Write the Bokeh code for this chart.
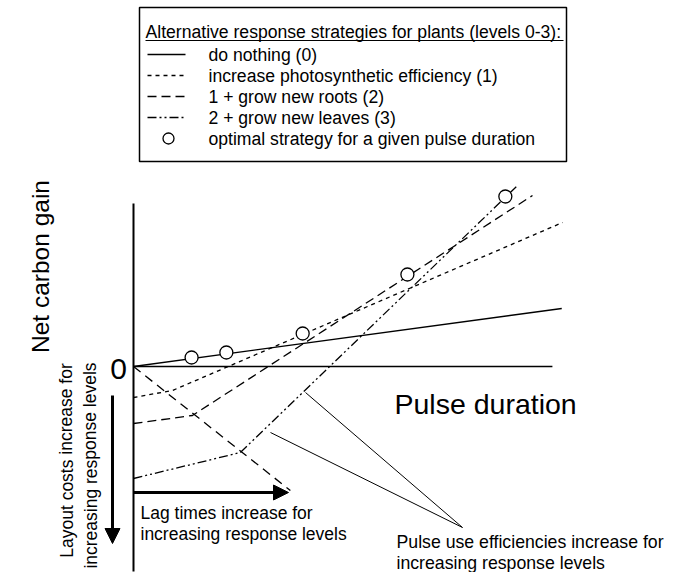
from bokeh.plotting import figure
from bokeh.models import Range1d, Arrow, NormalHead, Label
from bokeh.embed import file_html
from bokeh.resources import INLINE

# ---------------- data (conceptual units: pulse duration vs net carbon gain) -------------
lvl0_x = [0.0, 10.1]
lvl0_y = [0.0, 5.8]
lvl1_x = [0.0, 0.92, 10.12]
lvl1_y = [-3.1, -2.4, 14.4]
lvl2_x = [0.0, 1.39, 9.41]
lvl2_y = [-5.7, -4.9, 17.1]
lvl3_x = [0.0, 2.52, 9.06]
lvl3_y = [-11.2, -8.6, 18.1]
opt_x = [1.37, 2.19, 3.99, 6.46, 8.77]
opt_y = [0.9, 1.4, 3.3, 9.2, 17.0]
lag_x = [0.0, 3.7]
lag_y = [0.0, -12.4]
xaxis_x = [0.0, 9.88]
yaxis_y = [16.3, -20.5]

legend_title = "Alternative response strategies for plants (levels 0-3):"
legend_labels = ["do nothing (0)",
                 "increase photosynthetic efficiency (1)",
                 "1 + grow new roots (2)",
                 "2 + grow new leaves (3)",
                 "optimal strategy for a given pulse duration"]
legend_dashes = ["solid", "4 4", "9 5", "9 3 2 3 2 3"]

# ---------------- layout helpers (screen pixel -> data) ----------------
W, H = 678, 572
OX, OY = 133, 366      # screen position of origin
KX, KY = 42.4, 10.0    # px per unit


def sx(X):
    return (X - OX) / KX


def sy(Y):
    return (OY - Y) / KY


FONT = "Liberation Sans"

p = figure(width=W, height=H, output_backend="svg", toolbar_location=None,
           x_range=Range1d(sx(0), sx(W)), y_range=Range1d(sy(H), sy(0)),
           x_axis_location=None, y_axis_location=None, min_border=0,
           background_fill_color="white", border_fill_color="white")
p.outline_line_color = None
p.xgrid.visible = False
p.ygrid.visible = False

# axes
p.line([0, 0], yaxis_y, line_color="black", line_width=2)
p.line(xaxis_x, [0, 0], line_color="black", line_width=1.5)

# strategy lines
LW = 1.3
p.line(lvl0_x, lvl0_y, line_color="black", line_width=LW)
p.line(lvl1_x, lvl1_y, line_color="black", line_width=LW, line_dash=legend_dashes[1])
p.line(lvl2_x, lvl2_y, line_color="black", line_width=LW, line_dash=legend_dashes[2])
p.line(lvl3_x, lvl3_y, line_color="black", line_width=LW, line_dash=legend_dashes[3])
p.line(lag_x, lag_y, line_color="black", line_width=LW, line_dash="9 6")

# pulse-use-efficiency pointer lines
p.line([sx(305), sx(462)], [sy(392), sy(527)], line_color="black", line_width=1)
p.line([sx(270), sx(462)], [sy(432), sy(527)], line_color="black", line_width=1)

# optimal points
p.scatter(opt_x, opt_y, marker="circle", size=13, fill_color="white",
          line_color="black", line_width=1.3)

# arrows
p.add_layout(Arrow(end=NormalHead(size=15, fill_color="black", line_color="black"),
                   x_start=sx(112), y_start=sy(395), x_end=sx(112), y_end=sy(543),
                   line_width=3, line_color="black"))
p.add_layout(Arrow(end=NormalHead(size=15, fill_color="black", line_color="black"),
                   x_start=0, y_start=sy(492), x_end=sx(288), y_end=sy(492),
                   line_width=3, line_color="black"))


def label(X, Y, text, size, align="left", angle=0.0):
    p.add_layout(Label(x=sx(X), y=sy(Y), text=text, text_font=FONT,
                       text_font_size=f"{size}px", text_align=align,
                       text_baseline="middle", angle=angle, text_color="black"))


label(394, 403, "Pulse duration", 28.5)
label(118, 368, "0", 30, align="center")
label(40, 266, "Net carbon gain", 24.5, align="center", angle=1.5708)
label(66, 460, "Layout costs increase for", 17.5, align="center", angle=1.5708)
label(90, 465, "increasing response levels", 17.5, align="center", angle=1.5708)
label(140, 512, "Lag times increase for", 17.5)
label(140, 533, "increasing response levels", 17.5)
label(396, 541, "Pulse use efficiencies increase for", 17.7)
label(396, 562, "increasing response levels", 17.7)

# ---------------- legend box ----------------
p.quad(left=sx(139), right=sx(566), top=sy(7), bottom=sy(161),
       fill_color="white", line_color="black", line_width=1.5)
label(145, 31, legend_title, 17.6)
p.line([sx(145), sx(563)], [sy(40), sy(40)], line_color="black", line_width=1)
rows = [54, 75, 96, 117, 138]
for i, txt in enumerate(legend_labels):
    if i < 4:
        p.line([sx(147), sx(185)], [sy(rows[i]), sy(rows[i])], line_color="black",
               line_width=LW, line_dash=legend_dashes[i])
    else:
        p.scatter([sx(168)], [sy(rows[i])], marker="circle", size=11,
                  fill_color="white", line_color="black", line_width=1.3)
    label(208, rows[i], txt, 17.6)

open("out.html", "w").write(file_html(p, INLINE))
